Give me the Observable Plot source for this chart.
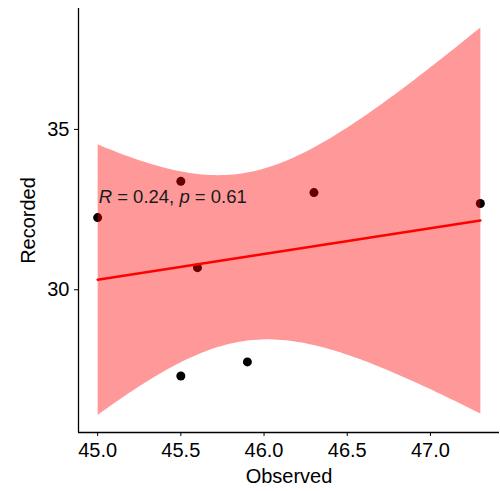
<!DOCTYPE html>
<html>
<head>
<meta charset="utf-8">
<script src="https://cdn.jsdelivr.net/npm/d3@7"></script>
<script src="https://cdn.jsdelivr.net/npm/@observablehq/plot@0.6"></script>
<style>
  html, body { margin: 0; padding: 0; background: #fff; }
  #chart svg { display: block; }
</style>
</head>
<body>
<div id="chart"></div>
<script>
// Data
const observed = [45.0, 45.5, 45.6, 45.5, 45.9, 46.3, 47.3];
const recorded = [32.25, 33.38, 30.69, 27.31, 27.75, 33.03, 32.69];

// Axis settings
const xTicks = [45.0, 45.5, 46.0, 46.5, 47.0];
const yTicks = [30, 35];
const xDomain = [44.885, 47.415];
const yDomain = [25.55, 38.77];

// Annotation
const statR = 0.24;
const statP = 0.61;
const annotX = 45.0;
const annotY = 32.9;

const points = observed.map((x, i) => ({Observed: x, Recorded: recorded[i]}));
const annotLabel = `R = ${statR}, p = ${statP}`;

const font = "'Liberation Sans', Arial, Helvetica, sans-serif";

const chart = Plot.plot({
  width: 500,
  height: 491,
  marginLeft: 78,
  marginRight: 1,
  marginTop: 8,
  marginBottom: 59,
  style: {fontFamily: font, fontSize: "20px", color: "#000", background: "#fff"},
  x: {
    domain: xDomain,
    ticks: xTicks,
    tickFormat: d3.format(".1f"),
    tickSize: 4,
    tickPadding: 6,
    label: "Observed",
    labelArrow: "none",
    labelAnchor: "center",
    labelOffset: 50
  },
  y: {
    domain: yDomain,
    ticks: yTicks,
    tickSize: 4,
    tickPadding: 5,
    label: "Recorded",
    labelArrow: "none",
    labelAnchor: "center",
    labelOffset: 58
  },
  marks: [
    Plot.dot(points, {x: "Observed", y: "Recorded", r: 4.5, fill: "#000", stroke: "none"}),
    Plot.linearRegressionY(points, {
      x: "Observed", y: "Recorded",
      stroke: "red", strokeWidth: 2.5,
      fill: "red", fillOpacity: 0.4, ci: 0.95
    }),
    Plot.text([{x: annotX, y: annotY}], {
      x: "x", y: "y", text: () => annotLabel,
      textAnchor: "start", lineAnchor: "middle", dx: 1,
      fontSize: 18.5, fill: "#1a1a1a"
    }),
    Plot.ruleX([xDomain[0]], {stroke: "#000", strokeWidth: 1.3}),
    Plot.ruleY([yDomain[0]], {stroke: "#000", strokeWidth: 1.3})
  ]
});

// italicise the statistic symbols
d3.select(chart).selectAll("text").each(function () {
  if (this.textContent === annotLabel) {
    const t = d3.select(this);
    t.text(null);
    t.append("tspan").attr("font-style", "italic").text("R");
    t.append("tspan").text(` = ${statR}, `);
    t.append("tspan").attr("font-style", "italic").text("p");
    t.append("tspan").text(` = ${statP}`);
  }
});

document.getElementById("chart").appendChild(chart);
</script>
</body>
</html>
